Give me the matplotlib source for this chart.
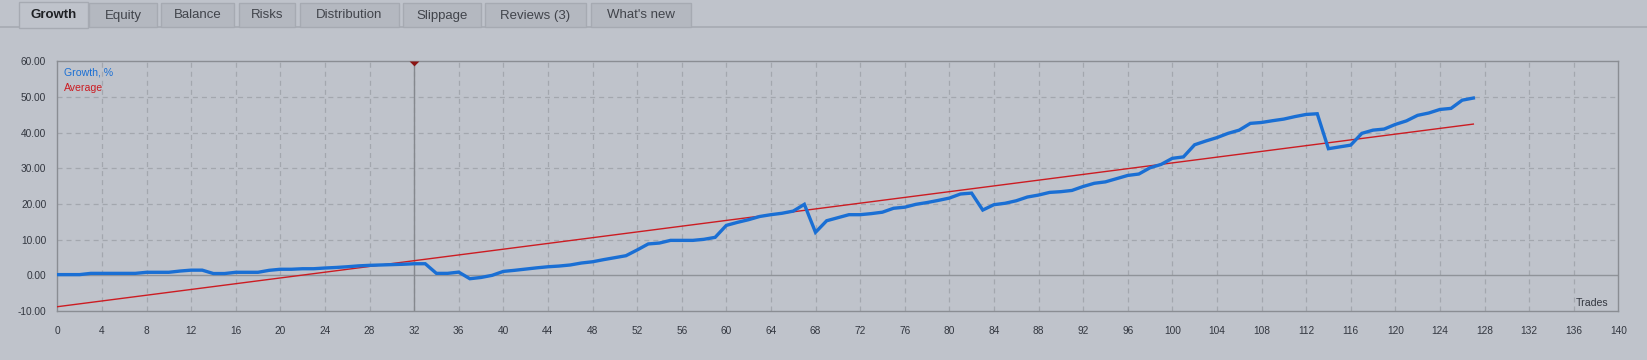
import matplotlib
matplotlib.use("Agg")
import matplotlib.pyplot as plt
from matplotlib.patches import Rectangle
from matplotlib.path import Path

# ---- data ----
trades = list(range(0, 128))
growth = [0.2, 0.2, 0.2, 0.55, 0.55, 0.55, 0.55, 0.55, 0.85, 0.85,
          0.85, 1.2, 1.45, 1.45, 0.5, 0.5, 0.85, 0.85, 0.85, 1.4,
          1.7, 1.7, 1.85, 1.85, 2.05, 2.2, 2.4, 2.65, 2.8, 2.9,
          3.0, 3.1, 3.25, 3.25, 0.55, 0.55, 0.9, -0.95, -0.6, 0.0,
          1.1, 1.4, 1.75, 2.1, 2.4, 2.6, 2.9, 3.45, 3.8, 4.4,
          4.95, 5.5, 7.1, 8.8, 9.05, 9.8, 9.8, 9.8, 10.1, 10.65,
          14.0, 14.85, 15.6, 16.5, 17.0, 17.4, 18.0, 19.9, 12.05, 15.3,
          16.15, 17.0, 17.0, 17.3, 17.7, 18.8, 19.1, 19.9, 20.4, 21.0,
          21.65, 22.8, 23.05, 18.3, 19.8, 20.2, 20.9, 21.95, 22.5, 23.25,
          23.45, 23.8, 24.9, 25.8, 26.2, 27.1, 28.0, 28.4, 30.15, 31.1,
          32.8, 33.2, 36.6, 37.65, 38.6, 39.8, 40.7, 42.6, 42.85, 43.35,
          43.8, 44.5, 45.1, 45.3, 35.5, 36.0, 36.5, 39.8, 40.7, 41.0,
          42.3, 43.3, 44.85, 45.5, 46.5, 46.8, 49.1, 49.7]
avg_x = [0, 127]
avg_y = [-8.8, 42.4]
marker_trade = 32
x_ticks = list(range(0, 141, 4))
y_ticks = [-10, 0, 10, 20, 30, 40, 50, 60]
y_tick_labels = ["-10.00", "0.00", "10.00", "20.00", "30.00", "40.00", "50.00", "60.00"]
tabs = ["Growth", "Equity", "Balance", "Risks", "Distribution", "Slippage", "Reviews (3)", "What's new"]
tab_edges = [(19, 88), (89, 157), (161, 234), (239, 295), (300, 399), (403, 481), (485, 586), (591, 691)]

# ---- style ----
BG = "#bfc3cb"
TXT = "#333740"
GRID = "#a3a7ae"
plt.rcParams["font.family"] = ["Liberation Sans", "DejaVu Sans"]
plt.rcParams["lines.scale_dashes"] = False

W, H = 1647, 360
fig = plt.figure(figsize=(W / 100, H / 100), dpi=100, facecolor=BG)

# tab bar overlay (pixel coords)
tb = fig.add_axes([0, 0, 1, 1], facecolor="none")
tb.set_xlim(0, W)
tb.set_ylim(H, 0)
tb.axis("off")
tb.plot([0, W], [27, 27], color="#a6aab2", lw=1.2)
for i, (name, (x0, x1)) in enumerate(zip(tabs, tab_edges)):
    sel = i == 0
    y0 = 3 if not sel else 2
    y1 = 27 if not sel else 28
    tb.add_patch(Rectangle((x0, y0), x1 - x0, y1 - y0,
                           facecolor=BG if sel else "#b4b8c0",
                           edgecolor="#a6aab2", lw=1.0, zorder=3 if sel else 2))
    tb.text((x0 + x1) / 2, 15.5, name, ha="center", va="center",
            fontsize=9.5, fontweight="bold" if sel else "normal",
            color="#1e2024" if sel else "#41444b", zorder=4,
            family=["Liberation Sans", "DejaVu Sans"])

# main chart
left, right, top, bottom = 57.3, 1618.3, 61.3, 311.0
ax = fig.add_axes([left / W, 1 - bottom / H, (right - left) / W, (bottom - top) / H], facecolor=BG)
ax.set_xlim(0, 140)
ax.set_ylim(-10, 60)

for xv in x_ticks[1:-1]:
    ax.axvline(xv, color=GRID, lw=0.9, ls=(0, (3.6, 2.9)), zorder=1)
for yv in y_ticks[1:-1]:
    if yv == 0:
        ax.axhline(yv, color="#8f9399", lw=1.0, zorder=1)
    else:
        ax.axhline(yv, color=GRID, lw=0.9, ls=(0, (3.6, 2.9)), zorder=1)

ax.axvline(marker_trade, color="#85888e", lw=1.0, zorder=2)
tri = Path([(-1, 0), (1, 0), (0, -1), (-1, 0)],
           [Path.MOVETO, Path.LINETO, Path.LINETO, Path.CLOSEPOLY])
ax.plot([marker_trade], [60], marker=tri, color="#8b1515", markersize=7,
        markeredgewidth=0, clip_on=False, zorder=6)

ax.plot(avg_x, avg_y, color="#cc1c22", lw=1.0, zorder=3)
ax.plot(trades, growth, color="#1a6fd4", lw=2.4, zorder=4, solid_joinstyle="miter")

ax.set_xticks(x_ticks)
ax.set_xticklabels([str(v) for v in x_ticks])
ax.set_yticks(y_ticks)
ax.set_yticklabels(y_tick_labels)
ax.tick_params(axis="both", length=0, labelsize=7.3, colors=TXT)
ax.tick_params(axis="x", pad=10.5)
ax.tick_params(axis="y", pad=8)
for s in ax.spines.values():
    s.set_color("#8a8d93")
    s.set_linewidth(1.0)

fig.text(64 / W, 1 - 72.3 / H, "Growth, %", color="#1a6fd4", fontsize=7.6, ha="left", va="center")
fig.text(64 / W, 1 - 87.7 / H, "Average", color="#cc1c22", fontsize=7.6, ha="left", va="center")
fig.text(1608 / W, 1 - 302.7 / H, "Trades", color=TXT, fontsize=7.6, ha="right", va="center")

fig.savefig("out.png", dpi=100, facecolor=BG)
